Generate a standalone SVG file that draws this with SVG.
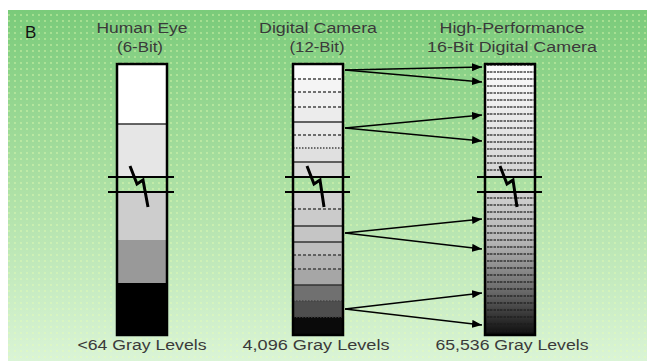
<svg xmlns="http://www.w3.org/2000/svg" width="647" height="361" viewBox="0 0 647 361">
<style>
.t{font-family:"Liberation Sans",Arial,sans-serif;font-size:14px;fill:#3a3a3a;text-anchor:middle}
.lb{font-family:"Liberation Sans",Arial,sans-serif;font-size:17px;fill:#111}
.b{stroke:#000;stroke-width:2.5;fill:none}
.brk{stroke:#000;stroke-width:2.2;fill:none}
.bolt{stroke:#000;stroke-width:3;fill:none;stroke-linejoin:miter}
.sl{stroke:#333;stroke-width:1.4}
.dl{stroke:#444;stroke-width:1.4;stroke-dasharray:3 2}
.ol{stroke:#444;stroke-width:1.4;stroke-dasharray:1.5 1.5}
.arr{stroke:#000;stroke-width:1.6;fill:none;marker-end:url(#ah)}
</style>
<defs>
<linearGradient id="bg" x1="0" y1="0" x2="0" y2="1">
<stop offset="0" stop-color="#7acb7a"/>
<stop offset="0.5" stop-color="#ace0a4"/>
<stop offset="1" stop-color="#daf4d6"/>
</linearGradient>
<pattern id="dots" width="6" height="6" patternUnits="userSpaceOnUse">
<circle cx="3" cy="3" r="0.9" fill="#e8ffb0" opacity="0.55"/>
</pattern>
<linearGradient id="rg1" x1="0" y1="0" x2="0" y2="1">
<stop offset="0" stop-color="#fcfcfc"/>
<stop offset="1" stop-color="#d4d4d4"/>
</linearGradient>
<linearGradient id="rg2" x1="0" y1="0" x2="0" y2="1">
<stop offset="0" stop-color="#d0d0d0"/>
<stop offset="0.35" stop-color="#b4b4b4"/>
<stop offset="0.7" stop-color="#686868"/>
<stop offset="1" stop-color="#0c0c0c"/>
</linearGradient>
<pattern id="stripes" width="10" height="7" patternUnits="userSpaceOnUse" y="64">
<line x1="0" y1="1" x2="10" y2="1" stroke="#1a1a1a" stroke-width="1.6" stroke-dasharray="2.5 1" opacity="0.8"/>
</pattern>
<marker id="ah" markerUnits="userSpaceOnUse" markerWidth="10" markerHeight="8" refX="10" refY="4" orient="auto">
<path d="M0,0 L10,4 L0,8 z" fill="#000"/>
</marker>
</defs>
<rect x="0" y="0" width="647" height="361" fill="#fff"/>
<rect x="8" y="10" width="639" height="351" fill="url(#bg)"/>
<rect x="8" y="10" width="639" height="351" fill="url(#dots)"/>
<text x="25" y="38" class="lb">B</text>

<g id="human-eye">
<rect x="117" y="64" width="50" height="60" fill="#fff"/>
<rect x="117" y="124" width="50" height="53" fill="#e6e6e6"/>
<rect x="117" y="192" width="50" height="48" fill="#cdcdcd"/>
<rect x="117" y="240" width="50" height="43" fill="#999"/>
<rect x="117" y="283" width="50" height="52" fill="#000"/>
<line x1="117" y1="124" x2="167" y2="124" class="sl"/>
<rect x="117" y="64" width="50" height="271" class="b"/>
<line x1="108" y1="177" x2="174" y2="177" class="brk"/>
<line x1="108" y1="192" x2="174" y2="192" class="brk"/>
<polyline points="130,166 137,184 143,180 148,207" class="bolt"/>
<text x="142" y="33" class="t" textLength="91" lengthAdjust="spacingAndGlyphs">Human Eye</text>
<text x="140" y="52" class="t" textLength="46" lengthAdjust="spacingAndGlyphs">(6-Bit)</text>
<text x="142" y="350" class="t" textLength="129" lengthAdjust="spacingAndGlyphs">&lt;64 Gray Levels</text>
</g>

<g id="digital-camera">
<rect x="293" y="64" width="50" height="15" fill="#fbfbfb"/>
<rect x="293" y="79" width="50" height="13" fill="#f4f4f4"/>
<rect x="293" y="92" width="50" height="15" fill="#f0f0f0"/>
<rect x="293" y="107" width="50" height="15" fill="#ececec"/>
<rect x="293" y="122" width="50" height="13" fill="#e9e9e9"/>
<rect x="293" y="135" width="50" height="13" fill="#e5e5e5"/>
<rect x="293" y="148" width="50" height="14" fill="#e0e0e0"/>
<rect x="293" y="162" width="50" height="15" fill="#d9d9d9"/>
<rect x="293" y="192" width="50" height="17" fill="#d2d2d2"/>
<rect x="293" y="209" width="50" height="17" fill="#cbcbcb"/>
<rect x="293" y="226" width="50" height="16" fill="#c5c5c5"/>
<rect x="293" y="242" width="50" height="13" fill="#bebebe"/>
<rect x="293" y="255" width="50" height="14" fill="#b2b2b2"/>
<rect x="293" y="269" width="50" height="16" fill="#a6a6a6"/>
<rect x="293" y="285" width="50" height="16" fill="#707070"/>
<rect x="293" y="301" width="50" height="16" fill="#4e4e4e"/>
<rect x="293" y="317" width="50" height="18" fill="#0a0a0a"/>
<line x1="293" y1="79" x2="343" y2="79" class="dl"/>
<line x1="293" y1="92" x2="343" y2="92" class="dl"/>
<line x1="293" y1="107" x2="343" y2="107" class="dl"/>
<line x1="293" y1="122" x2="343" y2="122" class="sl"/>
<line x1="293" y1="135" x2="343" y2="135" class="dl"/>
<line x1="293" y1="148" x2="343" y2="148" class="ol"/>
<line x1="293" y1="162" x2="343" y2="162" class="sl"/>
<line x1="293" y1="209" x2="343" y2="209" class="dl"/>
<line x1="293" y1="226" x2="343" y2="226" class="sl"/>
<line x1="293" y1="242" x2="343" y2="242" class="sl"/>
<line x1="293" y1="255" x2="343" y2="255" class="dl"/>
<line x1="293" y1="269" x2="343" y2="269" class="dl"/>
<line x1="293" y1="285" x2="343" y2="285" class="sl"/>
<line x1="293" y1="301" x2="343" y2="301" class="ol" stroke="#222"/>
<line x1="293" y1="317" x2="343" y2="317" class="ol" stroke="#222"/>
<rect x="293" y="64" width="50" height="271" class="b"/>
<line x1="285" y1="177" x2="350" y2="177" class="brk"/>
<line x1="285" y1="192" x2="350" y2="192" class="brk"/>
<polyline points="307,166 314,184 320,180 324,207" class="bolt"/>
<text x="318" y="33" class="t" textLength="118" lengthAdjust="spacingAndGlyphs">Digital Camera</text>
<text x="317" y="52" class="t" textLength="55" lengthAdjust="spacingAndGlyphs">(12-Bit)</text>
<text x="316" y="350" class="t" textLength="147" lengthAdjust="spacingAndGlyphs">4,096 Gray Levels</text>
</g>

<g id="hp-camera">
<rect x="485" y="64" width="50" height="113" fill="url(#rg1)"/>
<rect x="485" y="192" width="50" height="143" fill="url(#rg2)"/>
<rect x="485" y="64" width="50" height="113" fill="url(#stripes)"/>
<rect x="485" y="192" width="50" height="143" fill="url(#stripes)"/>
<rect x="485" y="64" width="50" height="271" class="b"/>
<line x1="477" y1="177" x2="542" y2="177" class="brk"/>
<line x1="477" y1="192" x2="542" y2="192" class="brk"/>
<polyline points="500,166 507,184 513,180 517,207" class="bolt"/>
<text x="512" y="33" class="t" textLength="145" lengthAdjust="spacingAndGlyphs">High-Performance</text>
<text x="512" y="52" class="t" textLength="170" lengthAdjust="spacingAndGlyphs">16-Bit Digital Camera</text>
<text x="512" y="350" class="t" textLength="153" lengthAdjust="spacingAndGlyphs">65,536 Gray Levels</text>
</g>

<g id="connectors">
<line x1="345" y1="70" x2="482" y2="67" class="arr"/>
<line x1="345" y1="70" x2="482" y2="82" class="arr"/>
<line x1="345" y1="128" x2="482" y2="115" class="arr"/>
<line x1="345" y1="128" x2="482" y2="141" class="arr"/>
<line x1="345" y1="233" x2="482" y2="219" class="arr"/>
<line x1="345" y1="233" x2="482" y2="249" class="arr"/>
<line x1="345" y1="309" x2="482" y2="293" class="arr"/>
<line x1="345" y1="309" x2="482" y2="325" class="arr"/>
</g>
</svg>
